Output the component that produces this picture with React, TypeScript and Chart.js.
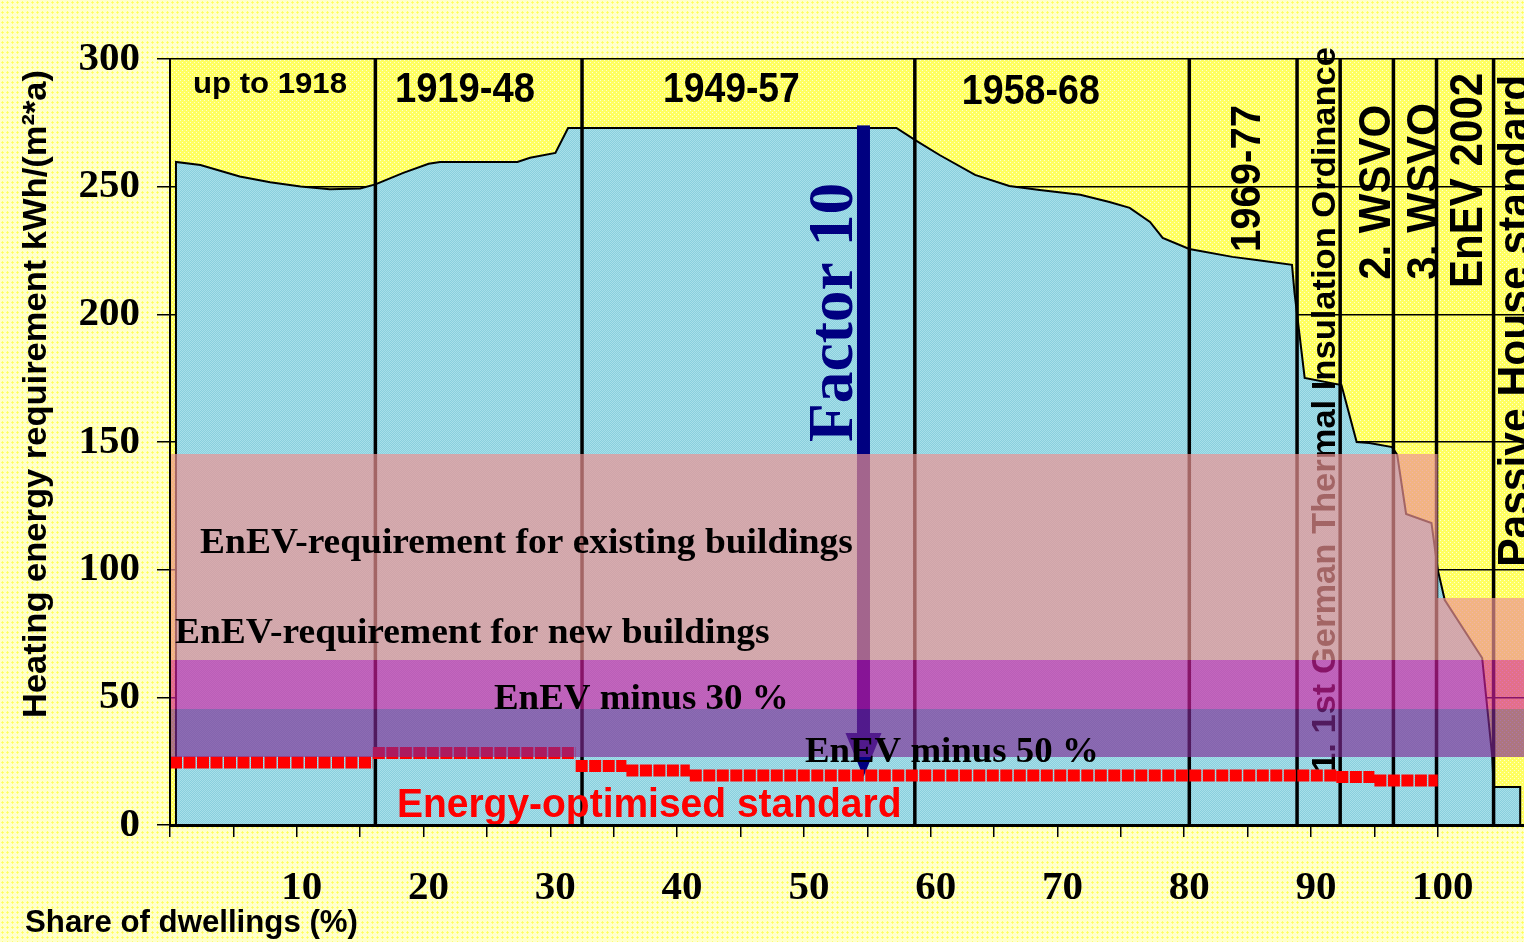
import React, { useEffect, useRef } from "react";
import { Chart, registerables } from "chart.js";

Chart.register(...registerables);

// ---------------- data ----------------
// Heating energy requirement of the German dwelling stock (area outline)
const dwellingShare = [
  0.47, 0.47, 2.4, 5.5, 7.9, 10.3, 12.6, 15.0, 16.2, 18.4, 20.4, 21.3, 27.4, 28.4, 30.4, 31.4,
  57.3, 58.75, 60.7, 63.5, 66.2, 68.6, 71.8, 74.1, 75.7, 77.3, 78.3, 80.4, 83.8, 85.7, 88.5,
  88.7, 89.5, 92.4, 93.6, 94.6, 96.4, 96.8, 97.5, 99.5, 100.0, 100.55, 103.5, 104.3, 104.4,
  106.5, 106.5,
];
const heatingDemand = [
  0, 259.7, 258.5, 254, 251.7, 250.1, 249, 249.3, 250.9, 255.4, 259, 259.7, 259.7, 261.3, 263.2, 273,
  273, 268.3, 262.4, 254.6, 250.3, 248.7, 246.8, 244, 241.7, 236.2, 229.9, 225.6, 222.5, 221.3, 219.4,
  208.4, 175.1, 172.3, 150, 149.6, 148, 145, 121.8, 118.3, 99.9, 88.1, 65.4, 26.6, 14.9,
  14.9, 0,
];

// building periods (boundaries on the share axis) and their labels
const periodBounds = [16.2, 32.5, 58.75, 80.4, 88.9, 92.3, 96.5, 99.9, 104.4];
const periodLabels = [
  "up to 1918",
  "1919-48",
  "1949-57",
  "1958-68",
  "1969-77",
  "1. 1st German Thermal Insulation Ordinance",
  "2. WSVO",
  "3. WSVO",
  "EnEV 2002",
  "Passive House standard",
];

// energy-optimised standard (step line)
const optimisedFrom = [0, 16, 32, 36, 41, 92, 95];
const optimisedTo = [16, 32, 36, 41, 92, 95, 100];
const optimisedValue = [24.5, 28.2, 23.1, 21.3, 19.4, 18.8, 17.4];

// EnEV requirement bands
const bandNames = [
  "EnEV-requirement for existing buildings",
  "EnEV-requirement for new buildings",
  "EnEV minus 30 %",
  "EnEV minus 50 %",
];
const bandUpper = [145.3, 88.9, 64.6, 45.4];
const bandLower = [88.9, 64.6, 45.4, 26.6];
const bandEnd = [100, 106.8, 106.8, 106.8];

// Factor 10 arrow (share, from value, to value)
const factorArrowShare = 54.7;
const factorArrowFrom = 274;
const factorArrowTo = 18.8;
const factorArrowHeadStart = 36;

const yTicks = [0, 50, 100, 150, 200, 250, 300];
const xLabelValues = [10, 20, 30, 40, 50, 60, 70, 80, 90, 100];

// ---------------- layout / style (kept apart from data) ----------------
const SANS = "'Liberation Sans', Arial, sans-serif";
const SERIF = "'Liberation Serif', 'Times New Roman', serif";

// horizontal labels: from/to on share axis, baseline on value axis
// vertical labels: baseline on share axis, from/to on value axis
const periodLabelLayout = [
  { vertical: false, from: 1.81, to: 13.96, at: 286.7, size: 30 },
  { vertical: false, from: 17.74, to: 28.79, at: 283.2, size: 42 },
  { vertical: false, from: 38.88, to: 49.68, at: 283.2, size: 42 },
  { vertical: false, from: 62.46, to: 73.34, at: 282.4, size: 42 },
  { vertical: true, from: 224.4, to: 282.0, at: 85.96, size: 42 },
  { vertical: true, from: 20.8, to: 304.7, at: 91.88, size: 34 },
  { vertical: true, from: 213.5, to: 282.0, at: 96.21, size: 44 },
  { vertical: true, from: 213.5, to: 282.8, at: 100.0, size: 44 },
  { vertical: true, from: 210.3, to: 294.6, at: 103.47, size: 46 },
  { vertical: true, from: 101.1, to: 293.8, at: 107.2, size: 44 },
];
const bandLabelLayout = [
  { from: 2.37, to: 53.86, at: 106.5, size: 35 },
  { from: 0.39, to: 47.3, at: 71.3, size: 35 },
  { from: 25.55, to: 48.8, at: 45.4, size: 36 },
  { from: 50.08, to: 73.26, at: 24.7, size: 36 },
];
const optimisedLabelLayout = { from: 17.9, to: 57.7, at: 3.1, size: 40 };
const factorLabelLayout = { from: 150.0, to: 251.5, at: 53.78, size: 64 };

const bandColors = [
  "rgba(236,146,146,0.69)",
  "rgba(236,146,146,0.69)",
  "rgba(211,32,162,0.64)",
  "rgba(127,41,147,0.64)",
];

function drawFitted(
  ctx: CanvasRenderingContext2D,
  text: string,
  x: number,
  y: number,
  width: number,
  font: string,
  color: string,
  vertical: boolean
) {
  ctx.save();
  ctx.font = font;
  ctx.fillStyle = color;
  ctx.textAlign = "left";
  ctx.textBaseline = "alphabetic";
  const w = ctx.measureText(text).width || 1;
  ctx.translate(x, y);
  if (vertical) ctx.rotate(-Math.PI / 2);
  ctx.scale(width / w, 1);
  ctx.fillText(text, 0, 0);
  ctx.restore();
}

function makePattern(
  ctx: CanvasRenderingContext2D,
  size: number,
  base: string,
  dot: string,
  dots: number[][]
) {
  const c = document.createElement("canvas");
  c.width = size;
  c.height = size;
  const g = c.getContext("2d")!;
  g.fillStyle = base;
  g.fillRect(0, 0, size, size);
  g.fillStyle = dot;
  dots.forEach(([x, y]) => g.fillRect(x, y, 1, 1));
  return ctx.createPattern(c, "repeat")!;
}

export default function App() {
  const canvasRef = useRef<HTMLCanvasElement | null>(null);

  useEffect(() => {
    document.body.style.margin = "0";
    document.body.style.overflow = "hidden";
    const canvas = canvasRef.current!;
    const ctx = canvas.getContext("2d")!;

    const plotPattern = makePattern(ctx, 4, "#FFFF60", "#FFFFD0", [[0, 0], [2, 2]]);
    const bluePattern = makePattern(ctx, 2, "#8ACFDD", "#A8E0EA", [[0, 0], [1, 1]]);

    const areaData = dwellingShare.map((x, i) => ({ x, y: heatingDemand[i] }));
    const optimisedData: { x: number; y: number | null }[] = [];
    optimisedFrom.forEach((f, i) => {
      optimisedData.push({ x: f, y: optimisedValue[i] });
      optimisedData.push({ x: optimisedTo[i], y: optimisedValue[i] });
      optimisedData.push({ x: optimisedTo[i], y: null });
    });

    const bandDatasets = bandUpper.map((u, i) => ({
      label: bandNames[i],
      data: [
        { x: 0, y: u },
        { x: bandEnd[i], y: u },
      ],
      fill: { value: bandLower[i] },
      backgroundColor: bandColors[i],
      borderColor: "rgba(0,0,0,0)",
      borderWidth: 0,
      pointRadius: 0,
      order: 1,
    }));

    const backgroundPlugin = {
      id: "plotBackground",
      beforeDraw(chart: any) {
        const { ctx: c, chartArea: a } = chart;
        c.save();
        c.fillStyle = plotPattern;
        c.fillRect(a.left, a.top, a.right - a.left, a.bottom - a.top);
        c.restore();
      },
    };

    const annotationPlugin = {
      id: "annotations",
      afterDatasetDraw(chart: any, args: any) {
        if (args.index !== 0) return;
        const c: CanvasRenderingContext2D = chart.ctx;
        const xs = chart.scales.x;
        const ys = chart.scales.y;
        // period separators
        c.save();
        c.strokeStyle = "#000";
        c.lineWidth = 3.5;
        periodBounds.forEach((b) => {
          const px = xs.getPixelForValue(b);
          c.beginPath();
          c.moveTo(px, ys.getPixelForValue(300));
          c.lineTo(px, ys.getPixelForValue(0));
          c.stroke();
        });
        c.restore();
        // period labels
        periodLabels.forEach((t, i) => {
          const L = periodLabelLayout[i];
          const font = `bold ${L.size}px ${SANS}`;
          if (L.vertical) {
            const x = xs.getPixelForValue(L.at);
            const y0 = ys.getPixelForValue(L.from);
            const y1 = ys.getPixelForValue(L.to);
            drawFitted(c, t, x, y0, y0 - y1, font, "#000", true);
          } else {
            const x0 = xs.getPixelForValue(L.from);
            const x1 = xs.getPixelForValue(L.to);
            drawFitted(c, t, x0, ys.getPixelForValue(L.at), x1 - x0, font, "#000", false);
          }
        });
        // Factor 10 arrow
        const ax = xs.getPixelForValue(factorArrowShare);
        const aTop = ys.getPixelForValue(factorArrowFrom);
        const aHead = ys.getPixelForValue(factorArrowHeadStart);
        const aTip = ys.getPixelForValue(factorArrowTo);
        c.save();
        c.fillStyle = "#000080";
        c.fillRect(ax - 6.5, aTop, 13, aHead - aTop + 1);
        c.beginPath();
        c.moveTo(ax - 18, aHead);
        c.lineTo(ax + 18, aHead);
        c.lineTo(ax, aTip);
        c.closePath();
        c.fill();
        c.restore();
        const fy0 = ys.getPixelForValue(factorLabelLayout.from);
        const fy1 = ys.getPixelForValue(factorLabelLayout.to);
        drawFitted(
          c,
          "Factor 10",
          xs.getPixelForValue(factorLabelLayout.at),
          fy0,
          fy0 - fy1,
          `bold ${factorLabelLayout.size}px ${SERIF}`,
          "#000080",
          true
        );
      },
      afterDatasetsDraw(chart: any) {
        const c: CanvasRenderingContext2D = chart.ctx;
        const xs = chart.scales.x;
        const ys = chart.scales.y;
        bandNames.forEach((t, i) => {
          const L = bandLabelLayout[i];
          const x0 = xs.getPixelForValue(L.from);
          const x1 = xs.getPixelForValue(L.to);
          drawFitted(c, t, x0, ys.getPixelForValue(L.at), x1 - x0, `bold ${L.size}px ${SERIF}`, "#000", false);
        });
        const O = optimisedLabelLayout;
        const ox0 = xs.getPixelForValue(O.from);
        const ox1 = xs.getPixelForValue(O.to);
        drawFitted(
          c,
          "Energy-optimised standard",
          ox0,
          ys.getPixelForValue(O.at),
          ox1 - ox0,
          `bold ${O.size}px ${SANS}`,
          "#FF0000",
          false
        );
      },
      afterDraw(chart: any) {
        const c: CanvasRenderingContext2D = chart.ctx;
        drawFitted(c, "Heating energy requirement kWh/(m²*a)", 46, 718, 648, `bold 34px ${SANS}`, "#000", true);
        drawFitted(c, "Share of dwellings (%)", 25, 932, 333, `bold 31px ${SANS}`, "#000", false);
      },
    };

    const chart = new Chart(canvas, {
      type: "line",
      data: {
        datasets: [
          {
            label: "Heating energy requirement",
            data: areaData,
            fill: "origin",
            backgroundColor: bluePattern,
            borderColor: "#000",
            borderWidth: 2,
            pointRadius: 0,
            tension: 0,
            order: 4,
          } as any,
          {
            label: "Energy-optimised standard",
            data: optimisedData,
            fill: false,
            borderColor: "#FF0000",
            borderWidth: 12,
            borderDash: [12, 1.5],
            borderCapStyle: "butt",
            spanGaps: false,
            pointRadius: 0,
            order: 3,
          } as any,
          ...(bandDatasets as any[]),
        ],
      },
      options: {
        animation: false,
        responsive: false,
        events: [],
        layout: { padding: { top: 59, left: 0, right: 0, bottom: 0 } },
        plugins: {
          legend: { display: false },
          tooltip: { enabled: false },
          title: { display: false },
        },
        scales: {
          x: {
            type: "linear",
            min: 0,
            max: 106.8,
            afterFit: (s: any) => {
              s.height = 117;
            },
            afterBuildTicks: (s: any) => {
              s.ticks = s.ticks.filter((t: any) => Math.abs(t.value / 5 - Math.round(t.value / 5)) < 1e-6);
            },
            ticks: {
              stepSize: 5,
              autoSkip: false,
              maxRotation: 0,
              minRotation: 0,
              padding: 27,
              labelOffset: 5,
              color: "#000",
              font: { family: SERIF, size: 41, weight: "bold" },
              callback: (v: any) => (xLabelValues.includes(Number(v)) ? String(v) : ""),
            },
            grid: { drawOnChartArea: false, drawTicks: true, tickLength: 12, color: "#000", lineWidth: 1.5 },
            border: { display: true, color: "#000", width: 3, z: 1 },
          },
          y: {
            type: "linear",
            min: 0,
            max: 300,
            afterFit: (s: any) => {
              s.width = 170;
            },
            afterBuildTicks: (s: any) => {
              s.ticks = yTicks.map((v) => ({ value: v }));
            },
            ticks: {
              stepSize: 50,
              padding: 17,
              color: "#000",
              font: { family: SERIF, size: 41, weight: "bold" },
            },
            grid: { drawOnChartArea: true, drawTicks: true, tickLength: 13, color: "#000", lineWidth: 1.5 },
            border: { display: true, color: "#000", width: 2, z: 1 },
          },
        },
      } as any,
      plugins: [backgroundPlugin, annotationPlugin],
    });

    return () => chart.destroy();
  }, []);

  return (
    <div
      style={{
        width: 1524,
        height: 942,
        position: "relative",
        overflow: "hidden",
        backgroundColor: "#FFFFCC",
        backgroundImage: "radial-gradient(circle, #FFFF55 0.9px, rgba(255,255,255,0) 1.3px)",
        backgroundSize: "5px 5px",
      }}
    >
      <canvas ref={canvasRef} width={1524} height={942} style={{ display: "block" }} />
    </div>
  );
}
